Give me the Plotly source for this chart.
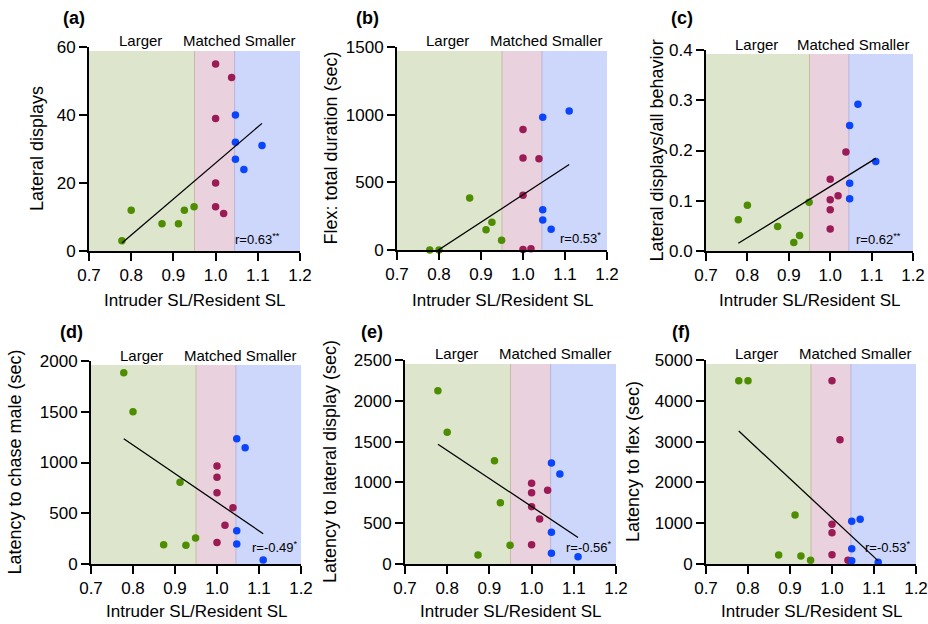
import numpy as np
import plotly.graph_objects as go

W, H = 928, 624
FONT = "Liberation Sans, Arial, sans-serif"

# Intruder SL / resident SL ratio of each trial, split by size class
x_larger = [0.778, 0.800, 0.873, 0.912, 0.926, 0.949]
x_matched = [1.000, 1.000, 1.000, 1.000, 1.019, 1.038]
x_smaller = [1.047, 1.047, 1.047, 1.067, 1.110]

# (a) lateral displays
a_larger = [3, 12, 8, 8, 12, 13]
a_matched = [55, 39, 20, 13, 11, 51]
a_smaller = [40, 32, 27, 24, 31]

# (b) flex: total duration (sec)
b_larger = [0, 0, 385, 150, 205, 72]
b_matched = [890, 680, 405, 3, 10, 675]
b_smaller = [980, 297, 222, 153, 1028]

# (c) lateral displays / all behavior
c_larger = [0.062, 0.091, 0.049, 0.017, 0.031, 0.097]
c_matched = [0.143, 0.102, 0.082, 0.044, 0.110, 0.197]
c_smaller = [0.250, 0.135, 0.104, 0.292, 0.178]

# (d) latency to chase male (sec)
d_larger = [1885, 1500, 190, 805, 184, 256]
d_matched = [965, 854, 703, 213, 381, 555]
d_smaller = [1235, 328, 197, 1146, 39]

# (e) latency to lateral display (sec)
e_larger = [2122, 1616, 110, 1266, 752, 229]
e_matched = [989, 874, 703, 237, 551, 903]
e_smaller = [1238, 388, 131, 1103, 90]

# (f) latency to flex (sec)
f_larger = [4493, 4493, 221, 1201, 196, 90]
f_matched = [4493, 972, 768, 229, 3047, 90]
f_smaller = [1046, 376, 82, 1095, 41]

panel_letters = ["(a)", "(b)", "(c)", "(d)", "(e)", "(f)"]
y_titles = [
    "Lateral displays",
    "Flex: total duration (sec)",
    "Lateral displays/all behavior",
    "Latency to chase male (sec)",
    "Latency to lateral display (sec)",
    "Latency to flex (sec)",
]
r_labels = ["r=0.63<sup>**</sup>", "r=0.53<sup>*</sup>", "r=0.62<sup>**</sup>",
            "r=-0.49<sup>*</sup>", "r=-0.56<sup>*</sup>", "r=-0.53<sup>*</sup>"]
y_max = [60, 1500, 0.4, 2000, 2500, 5000]
y_step = [20, 500, 0.1, 500, 500, 1000]
x_ticks = [0.7, 0.8, 0.9, 1.0, 1.1, 1.2]
class_names = ["Larger", "Matched Smaller"]

series = [
    (a_larger, a_matched, a_smaller),
    (b_larger, b_matched, b_smaller),
    (c_larger, c_matched, c_smaller),
    (d_larger, d_matched, d_smaller),
    (e_larger, e_matched, e_smaller),
    (f_larger, f_matched, f_smaller),
]

# Plot-area boxes in pixels: left, right, top, bottom
boxes = [
    (89, 300, 47, 251),
    (397, 607, 47, 250),
    (706, 913, 50, 251),
    (91, 301, 361, 564),
    (405, 616, 360, 564),
    (706, 916, 360, 564),
]
# positions of panel letters, y titles and r labels (pixels / data x)
letter_pos = [(74, 18), (367, 18), (682, 18), (71, 332), (372, 332), (681, 332)]
ytitle_x = [37, 331, 656, 14, 330, 633]
r_x = [1.157, 1.190, 1.176, 1.198, 1.195, 1.193]
r_shift = [12, 12, 12, 17, 17, 17]
xtitle_y = [300, 300, 300, 611, 611, 611]

shade_fill = ["#dde6cc", "#e9d1dd", "#cdd6fb"]
edge_col = ["#c9b9a5", "#b9b2d9"]
dot_col = ["#4e8d00", "#9b1b56", "#0a45fb"]
bounds = [0.7, 0.95, 1.045, 1.2]

fig = go.Figure()
shapes, annotations = [], []
layout = {}

for i in range(6):
    n = "" if i == 0 else str(i + 1)
    xa, ya = "x" + n, "y" + n
    x0, x1, yt, yb = boxes[i]
    layout["xaxis" + n] = dict(
        domain=[x0 / W, x1 / W], anchor=ya, range=[0.7, 1.2],
        tickvals=x_ticks, tickformat=".1f", automargin=False,
        showline=True, linewidth=2, linecolor="black",
        ticks="outside", ticklen=8, tickwidth=2, tickcolor="black",
        showgrid=False, zeroline=False,
        tickfont=dict(family=FONT, size=17, color="black"),
    )
    yfmt = ".1f" if y_max[i] < 1 else "d"
    layout["yaxis" + n] = dict(
        domain=[1 - yb / H, 1 - yt / H], anchor=xa, range=[0, y_max[i]],
        tickvals=list(np.round(np.arange(0, y_max[i] + y_step[i] / 2, y_step[i]), 3)),
        tickformat=yfmt, automargin=False,
        showline=True, linewidth=2, linecolor="black",
        ticks="outside", ticklen=8, tickwidth=2, tickcolor="black",
        showgrid=False, zeroline=False,
        tickfont=dict(family=FONT, size=17, color="black"),
    )

    # background bands for the three size classes
    for k in range(3):
        shapes.append(dict(type="rect", xref=xa, yref=ya + " domain",
                           x0=bounds[k], x1=bounds[k + 1], y0=0, y1=0.98,
                           fillcolor=shade_fill[k], line=dict(width=0),
                           layer="below"))
    for k in range(2):
        shapes.append(dict(type="line", xref=xa, yref=ya + " domain",
                           x0=bounds[k + 1], x1=bounds[k + 1], y0=0, y1=0.98,
                           line=dict(color=edge_col[k], width=1),
                           layer="below"))

    g, m, s = series[i]
    for xs, ys, col in zip((x_larger, x_matched, x_smaller), (g, m, s), dot_col):
        fig.add_trace(go.Scatter(
            x=xs, y=ys, mode="markers", xaxis=xa, yaxis=ya,
            marker=dict(color=col, size=7.5, line=dict(width=0)),
            cliponaxis=False, showlegend=False, hoverinfo="x+y"))

    # least-squares line over all trials
    all_x = np.array(x_larger + x_matched + x_smaller)
    all_y = np.array(list(g) + list(m) + list(s), dtype=float)
    slope, icpt = np.polyfit(all_x, all_y, 1)
    fx = np.array([all_x.min(), all_x.max()])
    fig.add_trace(go.Scatter(
        x=fx, y=slope * fx + icpt, mode="lines", xaxis=xa, yaxis=ya,
        line=dict(color="black", width=1.3), showlegend=False,
        hoverinfo="skip"))

    annotations.append(dict(text=class_names[0], xref=xa, yref=ya + " domain",
                            x=0.821, y=1, yanchor="middle", yshift=6,
                            showarrow=False,
                            font=dict(family=FONT, size=15, color="black")))
    annotations.append(dict(text=class_names[1], xref=xa, yref=ya + " domain",
                            x=1.057, y=1, yanchor="middle", yshift=6,
                            showarrow=False,
                            font=dict(family=FONT, size=15, color="black")))
    annotations.append(dict(text=r_labels[i], xref=xa, yref=ya + " domain",
                            x=r_x[i], y=0, xanchor="right", yanchor="middle",
                            yshift=r_shift[i], showarrow=False,
                            font=dict(family=FONT, size=13, color="black")))
    lx, ly = letter_pos[i]
    annotations.append(dict(text="<b>" + panel_letters[i] + "</b>",
                            xref="paper", yref="paper", x=lx / W, y=1 - ly / H,
                            xanchor="center", yanchor="middle", showarrow=False,
                            font=dict(family=FONT, size=18, color="black")))
    annotations.append(dict(text=y_titles[i], xref="paper", yref="paper",
                            x=ytitle_x[i] / W, y=1 - (yt + yb) / 2 / H,
                            xanchor="center", yanchor="middle", textangle=-90,
                            showarrow=False,
                            font=dict(family=FONT, size=18, color="black")))
    annotations.append(dict(text="Intruder SL/Resident SL", xref="paper",
                            yref="paper", x=(x0 + x1) / 2 / W,
                            y=1 - xtitle_y[i] / H, xanchor="center",
                            yanchor="middle", showarrow=False,
                            font=dict(family=FONT, size=17, color="black")))

fig.update_layout(
    width=W, height=H, margin=dict(l=0, r=0, t=0, b=0),
    paper_bgcolor="white", plot_bgcolor="white",
    font=dict(family=FONT, color="black"),
    shapes=shapes, annotations=annotations, **layout,
)

fig.write_html("out.html")
